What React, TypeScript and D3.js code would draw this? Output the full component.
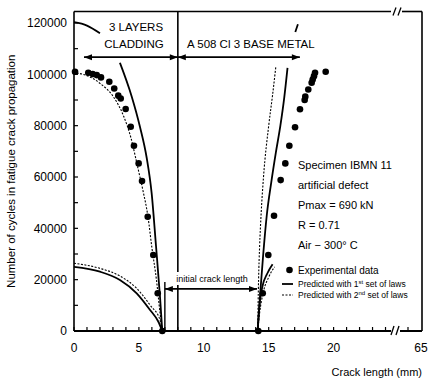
import React from 'react';
import * as d3 from 'd3';

type Pt = [number, number];

// crack length (mm), cycles
const expLeft: Pt[] = [
  [0.08, 101000], [1.1, 100600], [1.44, 100100], [1.75, 99700], [2.08, 98800], [2.72, 97100],
  [3.1, 94500], [3.41, 91700], [3.6, 90600], [3.98, 86500], [4.37, 79600], [4.62, 72200],
  [4.98, 65300], [5.24, 58400], [5.68, 44500], [6.11, 29600], [6.45, 14700], [6.8, 0],
];
const expRight: Pt[] = [
  [19.39, 101000], [18.57, 100600], [18.49, 99300], [18.39, 98000], [18.31, 96700], [18.05, 94100],
  [17.82, 91300], [17.77, 90000], [17.41, 86400], [17.03, 79400], [16.59, 72200], [16.28, 65300],
  [15.92, 58800], [15.41, 44900], [14.97, 29600], [14.54, 14700], [14.2, 0],
];

const law1Left: Pt[] = [
  [0, 120300], [1.0, 119000], [2.0, 116000], [2.8, 111000], [3.54, 104500], [4.45, 91300],
  [5.08, 79600], [5.6, 67500], [5.98, 53800], [6.32, 33000], [6.63, 13000], [6.8, 0],
];
const law2Left: Pt[] = [
  [0.2, 100500], [1, 99500], [2, 96500], [3, 91500], [3.8, 84000], [4.4, 75000], [4.9, 64000],
  [5.3, 55000], [5.7, 44500], [6.0, 32500], [6.35, 20000], [6.63, 7000], [6.82, 0],
];
const law1LeftLow: Pt[] = [
  [0, 25000], [2.0, 23100], [3.54, 19900], [4.83, 14700], [5.86, 8200], [6.5, 3600], [6.8, 0],
];
const law2LeftLow: Pt[] = [
  [0, 26400], [2.0, 24400], [3.54, 21400], [4.83, 16600], [5.86, 10100], [6.63, 4300], [6.82, 0],
];
const law1Right: Pt[] = [
  [14.15, 0], [14.35, 15000], [14.58, 30000], [14.85, 45000], [15.2, 58000], [15.55, 69500],
  [15.9, 80000], [16.2, 91000], [16.45, 102500], [16.75, 110000], [17.05, 116500], [17.25, 119500],
];
const law2Right: Pt[] = [
  [14.15, 0], [14.22, 20000], [14.3, 33000], [14.42, 46000], [14.6, 60000], [15.0, 80000],
  [15.3, 92000], [15.55, 103000],
];
const law1RightLow: Pt[] = [[14.15, 0], [14.25, 8000], [14.5, 17000], [14.9, 22500], [15.3, 26000]];
const law2RightLow: Pt[] = [[14.15, 0], [14.3, 7000], [14.6, 15500], [15.0, 21000], [15.45, 25000]];

const yTicks = [0, 20000, 40000, 60000, 80000, 100000, 120000];
const yMinor = d3.range(0, 125000, 10000);
const xTicks = [0, 5, 10, 15, 20];
const xMinor = d3.range(0, 25, 1);
const infoLines = ['Specimen IBMN 11', 'artificial defect', 'Pmax = 690 kN', 'R = 0.71', 'Air \u2212 300\u00b0 C'];

const W = 428;
const H = 381;
const left = 74, right = 422, top = 11.5, bottom = 331;
const breakX = 391;

const x = d3.scaleLinear().domain([0, 20]).range([74, 333.6]);
const xFar = d3.scaleLinear().domain([64, 65]).range([408, 421]);
const y = d3.scaleLinear().domain([0, 120000]).range([331, 23]);

const font = 'Liberation Sans, Arial, Helvetica, sans-serif';

const line = (gap?: [number, number]) =>
  d3.line<Pt>()
    .defined(d => !gap || d[1] <= gap[0] || d[1] >= gap[1])
    .x(d => x(d[0]))
    .y(d => y(d[1]))
    .curve(d3.curveMonotoneX);

const Arrow: React.FC<{ x1: number; x2: number; yy: number; head1?: boolean; head2?: boolean }> = ({ x1, x2, yy, head1 = true, head2 = true }) => {
  const L = 8, hw = 3;
  return (
    <g>
      <line x1={x1} x2={x2} y1={yy} y2={yy} stroke="#000" strokeWidth={1.6} />
      {head1 && <path d={`M${x1},${yy}L${x1 + L},${yy - hw}L${x1 + L},${yy + hw}Z`} fill="#000" />}
      {head2 && <path d={`M${x2},${yy}L${x2 - L},${yy - hw}L${x2 - L},${yy + hw}Z`} fill="#000" />}
    </g>
  );
};

export default function App() {
  const solid = { fill: 'none', stroke: '#000', strokeWidth: 1.8 };
  const dotted = { fill: 'none', stroke: '#000', strokeWidth: 1.1, strokeDasharray: '2,1.5' };
  const arrowY = y(106700);
  const crackY = y(16400);

  return (
    <svg width={W} height={H} style={{ position: 'absolute', left: 0, top: 0, background: '#fff' }} fontFamily={font}>
      {/* frame */}
      <line x1={left} x2={left} y1={top} y2={bottom} stroke="#000" strokeWidth={1.6} />
      <line x1={right} x2={right} y1={top} y2={bottom} stroke="#000" strokeWidth={1.6} />
      <line x1={left} x2={breakX} y1={top} y2={top} stroke="#000" strokeWidth={1.6} />
      <line x1={breakX + 11} x2={right} y1={top} y2={top} stroke="#000" strokeWidth={1.6} />
      <line x1={left} x2={breakX} y1={bottom} y2={bottom} stroke="#000" strokeWidth={2} />
      <line x1={breakX + 9} x2={right} y1={bottom} y2={bottom} stroke="#000" strokeWidth={2} />
      {[0, 5].map(o => (
        <g key={'b' + o}>
          <line x1={breakX + 2 + o} x2={breakX + 5 + o} y1={top + 4} y2={top - 4} stroke="#000" strokeWidth={1.3} />
          <line x1={breakX + o} x2={breakX + 3 + o} y1={bottom + 4} y2={bottom - 5} stroke="#000" strokeWidth={1.3} />
        </g>
      ))}

      {/* y ticks */}
      {yMinor.map(v => (
        <line key={'ym' + v} x1={left} x2={left + 4} y1={y(v)} y2={y(v)} stroke="#000" strokeWidth={1.2} />
      ))}
      {yTicks.map(v => (
        <text key={'yt' + v} x={67} y={y(v)} dy="0.36em" textAnchor="end" fontSize={12}>{v}</text>
      ))}
      <text transform={`translate(15,${(top + bottom) / 2}) rotate(-90)`} textAnchor="middle" fontSize={11.5}>
        Number of cycles in fatigue crack propagation
      </text>

      {/* x ticks */}
      {xMinor.map(v => (
        <line key={'xm' + v} x1={x(v)} x2={x(v)} y1={bottom} y2={bottom - 4} stroke="#000" strokeWidth={1.2} />
      ))}
      <line x1={xFar(64)} x2={xFar(64)} y1={bottom} y2={bottom - 4} stroke="#000" strokeWidth={1.2} />
      {xTicks.map(v => (
        <text key={'xt' + v} x={x(v)} y={352} textAnchor="middle" fontSize={12}>{v}</text>
      ))}
      <text x={xFar(65)} y={352} textAnchor="middle" fontSize={12}>65</text>
      <text x={right} y={376} textAnchor="end" fontSize={11}>Crack length (mm)</text>

      {/* predicted curves */}
      <path d={line([104500, 116000])(law1Left) || ''} {...solid} />
      <path d={line()(law2Left) || ''} {...dotted} />
      <path d={line()(law1LeftLow) || ''} {...solid} />
      <path d={line()(law2LeftLow) || ''} {...dotted} />
      <path d={line([102500, 116500])(law1Right) || ''} {...solid} />
      <path d={line()(law2Right) || ''} {...dotted} />
      <path d={line()(law1RightLow) || ''} {...solid} />
      <path d={line()(law2RightLow) || ''} {...dotted} />

      {/* experimental points */}
      {[...expLeft, ...expRight].map((d, i) => (
        <circle key={'p' + i} cx={x(d[0])} cy={y(d[1])} r={3.3} fill="#000" />
      ))}

      {/* cladding / base metal boundary */}
      <line x1={x(8)} x2={x(8)} y1={top} y2={bottom} stroke="#000" strokeWidth={1.6} />
      <Arrow x1={x(0.77)} x2={x(8)} yy={arrowY} />
      <Arrow x1={x(8)} x2={x(17.4)} yy={arrowY} />
      <text x={136} y={31} textAnchor="middle" fontSize={11.5}>3 LAYERS</text>
      <text x={134} y={48} textAnchor="middle" fontSize={11.5}>CLADDING</text>
      <text x={187} y={48} fontSize={11.5}>A 508 Cl 3 BASE METAL</text>

      {/* initial crack length */}
      <rect x={174} y={272} width={78} height={13} fill="#fff" />
      <text x={212} y={282} textAnchor="middle" fontSize={9}>initial crack length</text>
      <line x1={x(7.0)} x2={x(7.0)} y1={bottom} y2={y(19100)} stroke="#000" strokeWidth={1.4} />
      <Arrow x1={x(7.0)} x2={x(14.1)} yy={crackY} />

      {/* specimen info */}
      {infoLines.map((t, i) => (
        <text key={'i' + i} x={298} y={169 + i * 20} fontSize={11}>{t}</text>
      ))}

      {/* legend */}
      <circle cx={289.5} cy={270} r={3.3} fill="#000" />
      <text x={298} y={273.5} fontSize={10}>Experimental data</text>
      <line x1={282} x2={293} y1={284} y2={284} stroke="#000" strokeWidth={1.8} />
      <text x={298} y={287} fontSize={8.5}>
        Predicted with 1<tspan dy={-3} fontSize={6}>st</tspan><tspan dy={3}> set of laws</tspan>
      </text>
      <line x1={282} x2={293} y1={295} y2={295} {...dotted} />
      <text x={298} y={298} fontSize={8.5}>
        Predicted with 2<tspan dy={-3} fontSize={6}>nd</tspan><tspan dy={3}> set of laws</tspan>
      </text>
    </svg>
  );
}
